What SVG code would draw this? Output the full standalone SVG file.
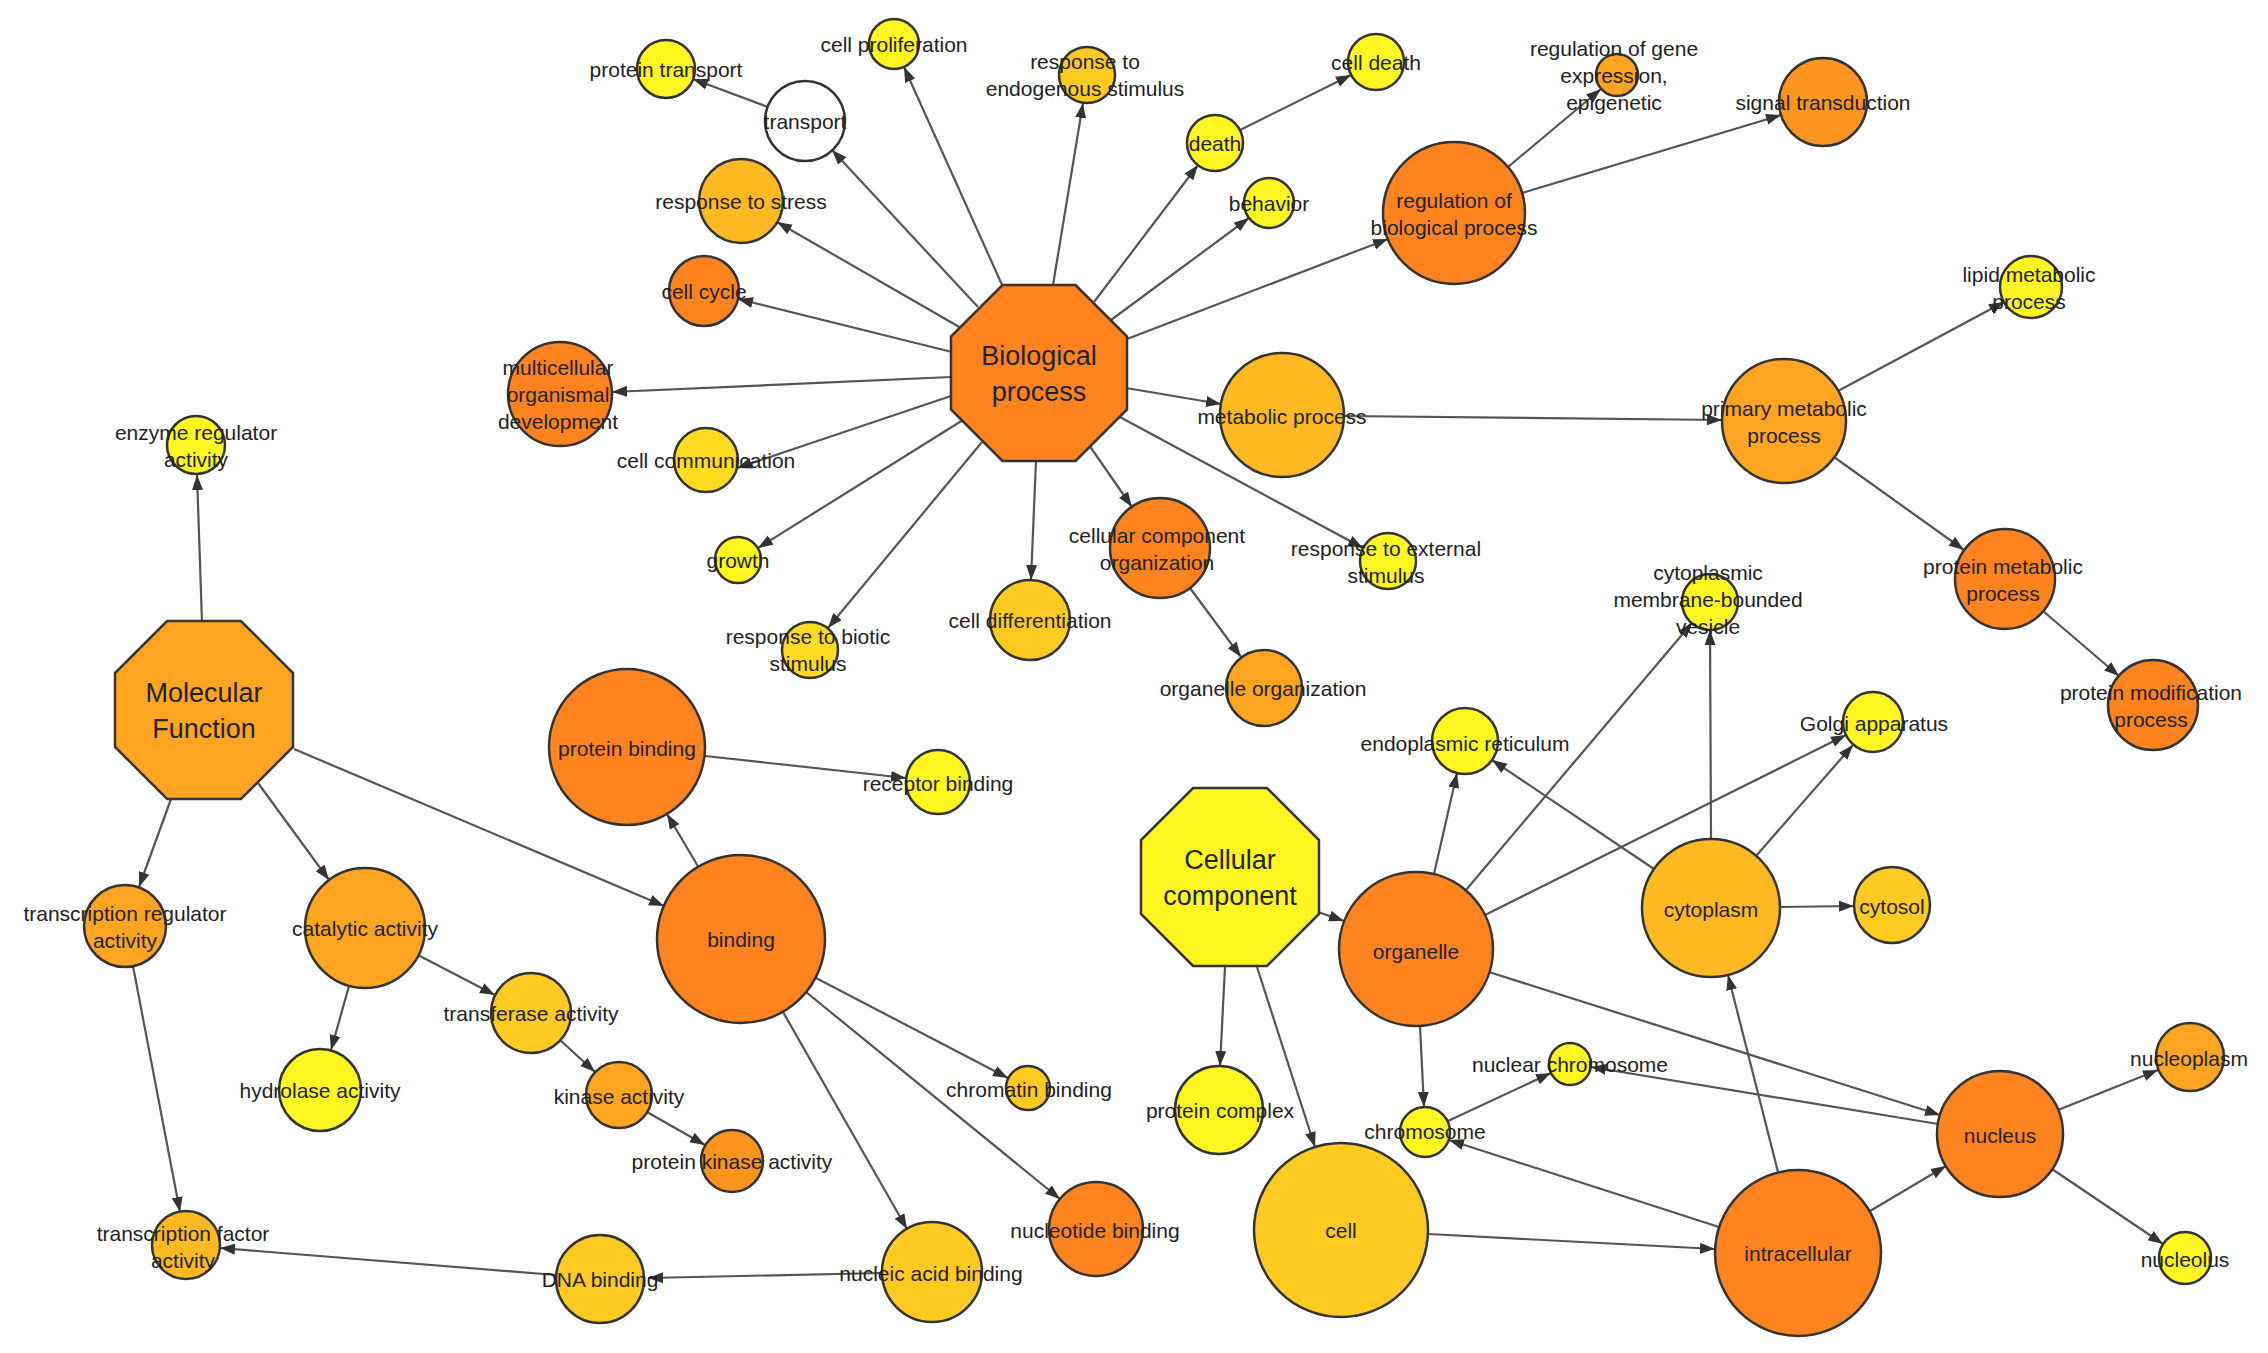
<svg xmlns="http://www.w3.org/2000/svg" width="2268" height="1353" viewBox="0 0 2268 1353">
<style>
.n{stroke:#333;stroke-width:2.5}
.c0{fill:#ffffff}.c1{fill:#fff520}.c2{fill:#ffdc21}.c3{fill:#ffcb22}.c4{fill:#ffb922}.c5{fill:#ffa522}.c6{fill:#ff9521}.c7{fill:#ff8420}
.e{stroke:#555;stroke-width:2.2;fill:none;marker-end:url(#arr)}
text{font-family:"Liberation Sans",Arial,sans-serif;font-size:21px;fill:#222;text-anchor:middle}
.big{font-size:27px}
</style>
<defs>
<marker id="arr" markerUnits="userSpaceOnUse" markerWidth="16" markerHeight="12" viewBox="0 0 16 12" refX="15" refY="6" orient="auto">
<path d="M0,0.5 L15,6 L0,11.5 z" fill="#333"/>
</marker>
</defs>
<rect width="2268" height="1353" fill="#ffffff"/>
<g id="edges">
<line class="e" x1="978" y1="307" x2="832" y2="150"/>
<line class="e" x1="768" y1="107" x2="693" y2="79"/>
<line class="e" x1="1003" y1="287" x2="904" y2="67"/>
<line class="e" x1="1053" y1="285" x2="1083" y2="103"/>
<line class="e" x1="1094" y1="302" x2="1198" y2="165"/>
<line class="e" x1="1240" y1="130" x2="1351" y2="75"/>
<line class="e" x1="1111" y1="320" x2="1249" y2="218"/>
<line class="e" x1="1127" y1="339" x2="1388" y2="239"/>
<line class="e" x1="1508" y1="167" x2="1601" y2="89"/>
<line class="e" x1="1522" y1="193" x2="1781" y2="115"/>
<line class="e" x1="961" y1="328" x2="777" y2="222"/>
<line class="e" x1="952" y1="352" x2="738" y2="299"/>
<line class="e" x1="951" y1="377" x2="612" y2="392"/>
<line class="e" x1="954" y1="395" x2="737" y2="468"/>
<line class="e" x1="963" y1="420" x2="758" y2="548"/>
<line class="e" x1="982" y1="442" x2="828" y2="628"/>
<line class="e" x1="1036" y1="461" x2="1031" y2="580"/>
<line class="e" x1="1089" y1="445" x2="1132" y2="507"/>
<line class="e" x1="1190" y1="588" x2="1241" y2="657"/>
<line class="e" x1="1118" y1="416" x2="1363" y2="548"/>
<line class="e" x1="1126" y1="388" x2="1221" y2="404"/>
<line class="e" x1="1344" y1="416" x2="1722" y2="420"/>
<line class="e" x1="1838" y1="391" x2="2004" y2="302"/>
<line class="e" x1="1834" y1="457" x2="1964" y2="550"/>
<line class="e" x1="2043" y1="611" x2="2119" y2="676"/>
<line class="e" x1="202" y1="622" x2="197" y2="475"/>
<line class="e" x1="171" y1="799" x2="139" y2="887"/>
<line class="e" x1="258" y1="783" x2="329" y2="880"/>
<line class="e" x1="294" y1="749" x2="664" y2="906"/>
<line class="e" x1="133" y1="966" x2="180" y2="1212"/>
<line class="e" x1="349" y1="986" x2="331" y2="1050"/>
<line class="e" x1="418" y1="955" x2="495" y2="995"/>
<line class="e" x1="560" y1="1040" x2="595" y2="1072"/>
<line class="e" x1="647" y1="1112" x2="705" y2="1145"/>
<line class="e" x1="699" y1="868" x2="667" y2="814"/>
<line class="e" x1="705" y1="756" x2="906" y2="778"/>
<line class="e" x1="816" y1="978" x2="1008" y2="1078"/>
<line class="e" x1="806" y1="992" x2="1060" y2="1199"/>
<line class="e" x1="783" y1="1012" x2="907" y2="1229"/>
<line class="e" x1="882" y1="1273" x2="648" y2="1278"/>
<line class="e" x1="556" y1="1275" x2="220" y2="1248"/>
<line class="e" x1="1318" y1="912" x2="1344" y2="921"/>
<line class="e" x1="1225" y1="967" x2="1220" y2="1066"/>
<line class="e" x1="1257" y1="967" x2="1315" y2="1147"/>
<line class="e" x1="1434" y1="874" x2="1457" y2="773"/>
<line class="e" x1="1466" y1="890" x2="1692" y2="623"/>
<line class="e" x1="1485" y1="915" x2="1846" y2="735"/>
<line class="e" x1="1420" y1="1026" x2="1424" y2="1107"/>
<line class="e" x1="1489" y1="972" x2="1940" y2="1115"/>
<line class="e" x1="1654" y1="869" x2="1492" y2="760"/>
<line class="e" x1="1711" y1="839" x2="1710" y2="630"/>
<line class="e" x1="1756" y1="856" x2="1853" y2="745"/>
<line class="e" x1="1780" y1="907" x2="1854" y2="906"/>
<line class="e" x1="1448" y1="1121" x2="1551" y2="1073"/>
<line class="e" x1="1938" y1="1124" x2="1591" y2="1067"/>
<line class="e" x1="1719" y1="1227" x2="1449" y2="1140"/>
<line class="e" x1="1778" y1="1172" x2="1728" y2="975"/>
<line class="e" x1="1428" y1="1234" x2="1715" y2="1249"/>
<line class="e" x1="1870" y1="1211" x2="1946" y2="1166"/>
<line class="e" x1="2058" y1="1110" x2="2158" y2="1070"/>
<line class="e" x1="2052" y1="1169" x2="2163" y2="1244"/>
</g>
<g id="biological-process"><polygon class="n c7" points="1002.5,285 1075.5,285 1127,336.5 1127,409.5 1075.5,461 1002.5,461 951,409.5 951,336.5"/><text class="big" x="1039" y="365">Biological</text><text class="big" x="1039" y="401">process</text></g>
<g id="molecular-function"><polygon class="n c5" points="167.1,621 240.9,621 293,673.1 293,746.9 240.9,799 167.1,799 115,746.9 115,673.1"/><text class="big" x="204" y="702">Molecular</text><text class="big" x="204" y="738">Function</text></g>
<g id="cellular-component"><polygon class="n c1" points="1193.1,788 1266.9,788 1319,840.1 1319,913.9 1266.9,966 1193.1,966 1141,913.9 1141,840.1"/><text class="big" x="1230" y="869">Cellular</text><text class="big" x="1230" y="905">component</text></g>
<g id="protein-transport"><circle class="n c1" cx="666" cy="69" r="29"/><text x="666" y="77">protein transport</text></g>
<g id="transport"><circle class="n c0" cx="805" cy="121" r="40"/><text x="805" y="129">transport</text></g>
<g id="cell-proliferation"><circle class="n c1" cx="894" cy="44" r="25"/><text x="894" y="52">cell proliferation</text></g>
<g id="response-to-endogenous-stimulus"><circle class="n c3" cx="1087" cy="75" r="28"/><text x="1085" y="69">response to</text><text x="1085" y="96">endogenous stimulus</text></g>
<g id="cell-death"><circle class="n c1" cx="1376" cy="62" r="28"/><text x="1376" y="70">cell death</text></g>
<g id="death"><circle class="n c1" cx="1215" cy="143" r="28"/><text x="1215" y="151">death</text></g>
<g id="behavior"><circle class="n c1" cx="1269" cy="203" r="25"/><text x="1269" y="211">behavior</text></g>
<g id="regulation-of-biological-process"><circle class="n c7" cx="1454" cy="213" r="71"/><text x="1454" y="208">regulation of</text><text x="1454" y="235">biological process</text></g>
<g id="regulation-of-gene-expression-epigenetic"><circle class="n c5" cx="1617" cy="75" r="21"/><text x="1614" y="56">regulation of gene</text><text x="1614" y="83">expression,</text><text x="1614" y="110">epigenetic</text></g>
<g id="signal-transduction"><circle class="n c6" cx="1823" cy="102" r="44"/><text x="1823" y="110">signal transduction</text></g>
<g id="response-to-stress"><circle class="n c4" cx="741" cy="201" r="42"/><text x="741" y="209">response to stress</text></g>
<g id="cell-cycle"><circle class="n c7" cx="704" cy="291" r="35"/><text x="704" y="299">cell cycle</text></g>
<g id="multicellular-organismal-development"><circle class="n c7" cx="560" cy="394" r="52"/><text x="558" y="375">multicellular</text><text x="558" y="402">organismal</text><text x="558" y="429">development</text></g>
<g id="cell-communication"><circle class="n c2" cx="706" cy="460" r="32"/><text x="706" y="468">cell communication</text></g>
<g id="growth"><circle class="n c1" cx="738" cy="560" r="23"/><text x="738" y="568">growth</text></g>
<g id="response-to-biotic-stimulus"><circle class="n c2" cx="810" cy="650" r="28"/><text x="808" y="644">response to biotic</text><text x="808" y="671">stimulus</text></g>
<g id="cell-differentiation"><circle class="n c3" cx="1030" cy="620" r="40"/><text x="1030" y="628">cell differentiation</text></g>
<g id="cellular-component-organization"><circle class="n c7" cx="1160" cy="548" r="50"/><text x="1157" y="543">cellular component</text><text x="1157" y="570">organization</text></g>
<g id="organelle-organization"><circle class="n c5" cx="1264" cy="688" r="38"/><text x="1263" y="696">organelle organization</text></g>
<g id="response-to-external-stimulus"><circle class="n c1" cx="1388" cy="561" r="28"/><text x="1386" y="556">response to external</text><text x="1386" y="583">stimulus</text></g>
<g id="metabolic-process"><circle class="n c4" cx="1282" cy="415" r="62"/><text x="1282" y="424">metabolic process</text></g>
<g id="primary-metabolic-process"><circle class="n c5" cx="1784" cy="421" r="62"/><text x="1784" y="416">primary metabolic</text><text x="1784" y="443">process</text></g>
<g id="lipid-metabolic-process"><circle class="n c1" cx="2031" cy="287" r="31"/><text x="2029" y="282">lipid metabolic</text><text x="2029" y="309">process</text></g>
<g id="protein-metabolic-process"><circle class="n c7" cx="2005" cy="579" r="50"/><text x="2003" y="574">protein metabolic</text><text x="2003" y="601">process</text></g>
<g id="protein-modification-process"><circle class="n c7" cx="2153" cy="705" r="45"/><text x="2151" y="700">protein modification</text><text x="2151" y="727">process</text></g>
<g id="enzyme-regulator-activity"><circle class="n c1" cx="196" cy="445" r="29"/><text x="196" y="440">enzyme regulator</text><text x="196" y="467">activity</text></g>
<g id="transcription-regulator-activity"><circle class="n c5" cx="125" cy="926" r="41"/><text x="125" y="921">transcription regulator</text><text x="125" y="948">activity</text></g>
<g id="catalytic-activity"><circle class="n c5" cx="365" cy="928" r="60"/><text x="365" y="936">catalytic activity</text></g>
<g id="binding"><circle class="n c7" cx="741" cy="939" r="84"/><text x="741" y="947">binding</text></g>
<g id="protein-binding"><circle class="n c7" cx="627" cy="747" r="78"/><text x="627" y="756">protein binding</text></g>
<g id="receptor-binding"><circle class="n c1" cx="938" cy="782" r="32"/><text x="938" y="791">receptor binding</text></g>
<g id="hydrolase-activity"><circle class="n c1" cx="320" cy="1090" r="41"/><text x="320" y="1098">hydrolase activity</text></g>
<g id="transferase-activity"><circle class="n c3" cx="531" cy="1013" r="40"/><text x="531" y="1021">transferase activity</text></g>
<g id="kinase-activity"><circle class="n c5" cx="619" cy="1095" r="33"/><text x="619" y="1104">kinase activity</text></g>
<g id="protein-kinase-activity"><circle class="n c6" cx="732" cy="1161" r="31"/><text x="732" y="1169">protein kinase activity</text></g>
<g id="transcription-factor-activity"><circle class="n c4" cx="186" cy="1245" r="34"/><text x="183" y="1241">transcription factor</text><text x="183" y="1268">activity</text></g>
<g id="dna-binding"><circle class="n c3" cx="600" cy="1279" r="44"/><text x="600" y="1287">DNA binding</text></g>
<g id="nucleic-acid-binding"><circle class="n c3" cx="932" cy="1272" r="50"/><text x="931" y="1281">nucleic acid binding</text></g>
<g id="chromatin-binding"><circle class="n c3" cx="1028" cy="1088" r="22"/><text x="1029" y="1097">chromatin binding</text></g>
<g id="nucleotide-binding"><circle class="n c7" cx="1096" cy="1229" r="47"/><text x="1095" y="1238">nucleotide binding</text></g>
<g id="endoplasmic-reticulum"><circle class="n c1" cx="1465" cy="741" r="33"/><text x="1465" y="751">endoplasmic reticulum</text></g>
<g id="cytoplasmic-membrane-bounded-vesicle"><circle class="n c1" cx="1710" cy="602" r="28"/><text x="1708" y="580">cytoplasmic</text><text x="1708" y="607">membrane-bounded</text><text x="1708" y="634">vesicle</text></g>
<g id="golgi-apparatus"><circle class="n c1" cx="1873" cy="722" r="30"/><text x="1874" y="731">Golgi apparatus</text></g>
<g id="cytoplasm"><circle class="n c4" cx="1711" cy="908" r="69"/><text x="1711" y="917">cytoplasm</text></g>
<g id="cytosol"><circle class="n c3" cx="1892" cy="905" r="38"/><text x="1892" y="914">cytosol</text></g>
<g id="organelle"><circle class="n c7" cx="1416" cy="949" r="77"/><text x="1416" y="959">organelle</text></g>
<g id="protein-complex"><circle class="n c1" cx="1219" cy="1110" r="44"/><text x="1220" y="1118">protein complex</text></g>
<g id="cell"><circle class="n c3" cx="1341" cy="1230" r="87"/><text x="1341" y="1238">cell</text></g>
<g id="chromosome"><circle class="n c1" cx="1425" cy="1132" r="25"/><text x="1425" y="1139">chromosome</text></g>
<g id="nuclear-chromosome"><circle class="n c1" cx="1570" cy="1064" r="21"/><text x="1570" y="1072">nuclear chromosome</text></g>
<g id="nucleus"><circle class="n c7" cx="2000" cy="1134" r="63"/><text x="2000" y="1143">nucleus</text></g>
<g id="nucleoplasm"><circle class="n c5" cx="2190" cy="1057" r="34"/><text x="2189" y="1066">nucleoplasm</text></g>
<g id="nucleolus"><circle class="n c1" cx="2185" cy="1258" r="26"/><text x="2185" y="1267">nucleolus</text></g>
<g id="intracellular"><circle class="n c7" cx="1798" cy="1253" r="83"/><text x="1798" y="1261">intracellular</text></g>
</svg>
